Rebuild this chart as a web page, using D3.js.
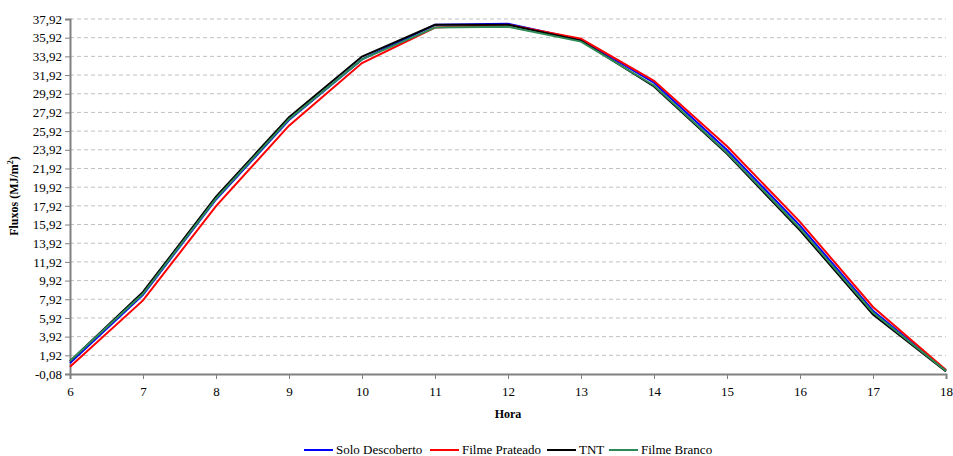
<!DOCTYPE html>
<html>
<head>
<meta charset="utf-8">
<script src="https://cdn.jsdelivr.net/npm/d3@7"></script>
<style>
body{margin:0;background:#fff;}
svg text{font-family:"Liberation Serif","Times New Roman",serif;}
</style>
</head>
<body>
<svg id="chart" width="953" height="456"></svg>
<script>
// horas e fluxos
var hours=[6,7,8,9,10,11,12,13,14,15,16,17,18];
var yTicks=[-0.08,1.92,3.92,5.92,7.92,9.92,11.92,13.92,15.92,17.92,19.92,21.92,23.92,25.92,27.92,29.92,31.92,33.92,35.92,37.92];
var seriesNames=["Solo Descoberto","Filme Prateado","TNT","Filme Branco"];
var soloDescoberto=[1.1,8.4,18.6,27.1,33.6,37.3,37.4,35.7,31.1,23.9,15.8,6.7,0.3];
var filmePrateado=[0.7,7.8,17.9,26.5,33.2,37.0,37.3,35.8,31.3,24.3,16.2,7.1,0.35];
var tnt=[1.3,8.7,18.9,27.4,33.9,37.3,37.3,35.6,30.7,23.5,15.3,6.3,0.2];
var filmeBranco=[1.3,8.5,18.7,27.2,33.6,37.0,37.1,35.5,30.8,23.6,15.5,6.5,0.25];
var colors=["#0000ff","#ff0000","#000000","#2e8b57"];

var svg=d3.select("#chart");
var x=d3.scaleLinear().domain([6,18]).range([70,946]);
var y=d3.scaleLinear().domain([-0.08,37.92]).range([374,19]);

var fmt=function(d){return d.toFixed(2).replace(".",",");};

// grade
svg.append("g").selectAll("line").data(yTicks.slice(1)).enter().append("line")
    .attr("x1",x(6)).attr("x2",x(18)).attr("y1",function(d){return y(d);}).attr("y2",function(d){return y(d);})
    .style("stroke","#c0c0c0").style("stroke-dasharray","4,3").style("stroke-width",1);

// eixos
var yAxis=svg.append("g").attr("transform","translate("+x(6)+",0)")
    .call(d3.axisLeft(y).tickValues(yTicks).tickFormat(fmt).tickSize(5).tickPadding(3));
var xAxis=svg.append("g").attr("transform","translate(0,"+y(-0.08)+")")
    .call(d3.axisBottom(x).tickValues(hours).tickFormat(d3.format("d")).tickSize(5).tickPadding(8));
[yAxis,xAxis].forEach(function(a){
    a.attr("font-family",null);
    a.select(".domain").style("stroke","#808080").style("stroke-width",2);
    a.selectAll(".tick line").style("stroke","#808080").style("stroke-width",1);
    a.selectAll("text").style("font-size","13px").style("fill","#000");
});

// linhas
var allSeries=[soloDescoberto,filmePrateado,tnt,filmeBranco];
var line=d3.line().x(function(d,i){return x(hours[i]);}).y(function(d){return y(d);});
svg.append("g").selectAll("path").data(allSeries).enter().append("path")
    .attr("d",line).style("fill","none").style("stroke",function(d,i){return colors[i];})
    .style("stroke-width",2).style("stroke-linejoin","miter");

// titulos dos eixos
svg.append("text").attr("x",508).attr("y",418).attr("text-anchor","middle")
    .style("font-size","12px").style("font-weight","bold").text("Hora");
var yl=svg.append("text").attr("transform","translate(18,196) rotate(-90)").attr("text-anchor","middle")
    .style("font-size","12px").style("font-weight","bold");
yl.append("tspan").text("Fluxos (MJ/m");
yl.append("tspan").attr("dy",-5).style("font-size","8px").text("2");
yl.append("tspan").attr("dy",5).text(")");

// legenda
var legX=[304,430,547,609];
var leg=svg.append("g").selectAll("g").data(seriesNames).enter().append("g")
    .attr("transform",function(d,i){return "translate("+legX[i]+",450)";});
leg.append("line").attr("x1",0).attr("x2",29).attr("y1",0).attr("y2",0)
    .style("stroke",function(d,i){return colors[i];}).style("stroke-width",2);
leg.append("text").attr("x",32).attr("y",4).style("font-size","13px").text(function(d){return d;});
</script>
</body>
</html>
